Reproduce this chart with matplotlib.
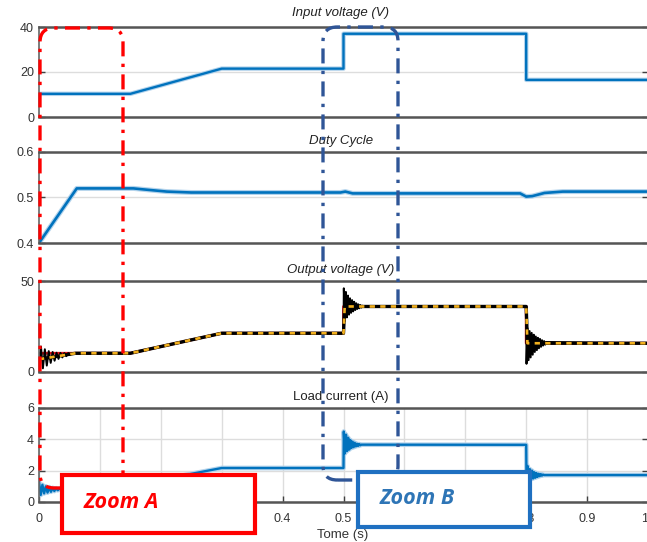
import numpy as np
import matplotlib
matplotlib.use("Agg")
import matplotlib.pyplot as plt
from matplotlib.patches import FancyBboxPatch, Rectangle

# ---------------- data ----------------
t_vin = [0, 0.15, 0.30, 0.50, 0.50, 0.80, 0.80, 1.0]
v_in = [10.3, 10.3, 21.5, 21.5, 37.0, 37.0, 16.5, 16.5]

t_duty = [0, 0.062, 0.155, 0.17, 0.21, 0.25, 0.495, 0.503, 0.515, 0.79, 0.80, 0.81, 0.83, 0.86, 1.0]
duty = [0.400, 0.520, 0.520, 0.518, 0.513, 0.511, 0.511, 0.513, 0.509, 0.509, 0.502, 0.503, 0.510, 0.513, 0.513]

t_ref = [0, 0.15, 0.30, 0.50, 0.50, 0.80, 0.80, 1.0]
v_ref = [10.3, 10.3, 21.3, 21.3, 36.0, 36.0, 15.8, 15.8]

t_vfilt = [0, 0.06, 0.15, 0.30, 0.50, 0.502, 0.80, 0.802, 1.0]
v_vfilt = [7.0, 10.3, 10.3, 21.3, 21.3, 36.0, 36.0, 15.8, 15.8]

# measured output voltage: steady breakpoints + ringing samples
t_vout_steady = [0.06, 0.15, 0.30, 0.50]
v_vout_steady = [10.3, 10.3, 21.3, 21.3]
vout_ring_start = [0, 14, 2, 12.5, 3.5, 11.5, 5, 11, 6.2, 10.6, 7.2, 10.5, 8, 10.4, 8.7, 10.4, 9.3, 10.3]
vout_ring_up = [46, 28, 44, 30, 42, 31.5, 40.5, 32.5, 39.5, 33.3, 38.6, 34, 37.8, 34.6, 37.2, 35, 36.8, 35.4, 36.4, 35.7]
vout_ring_down = [4.5, 24, 6.5, 22.5, 8, 21.5, 9.5, 20.5, 11, 19.5, 12, 18.8, 13, 18.2, 13.8, 17.5, 14.5, 17, 15, 16.5]
vout_after_up = 36.0
vout_end = 15.8

# load current
t_il_steady = [0.04, 0.15, 0.30, 0.50]
i_il_steady = [0.95, 1.05, 2.17, 2.17]
il_ring_start = [1.3, 0.45, 1.1, 0.55, 1.0, 0.6, 0.95, 0.65, 0.9, 0.7, 0.88, 0.75, 0.85, 0.8]
il_ring_up = [4.5, 3.1, 4.3, 3.25, 4.1, 3.35, 3.95, 3.45, 3.85, 3.5, 3.78, 3.55, 3.72, 3.58, 3.7, 3.62, 3.66]
il_ring_down = [1.2, 2.3, 1.3, 2.1, 1.45, 2.0, 1.5, 1.9, 1.55, 1.85, 1.6, 1.8, 1.65, 1.78, 1.68, 1.75, 1.72]
il_after_up = 3.65
il_end = 1.72

x_ticks = [0, 0.1, 0.2, 0.3, 0.4, 0.5, 0.6, 0.7, 0.8, 0.9, 1.0]
x_ticklabels = ["0", "0.1", "0.2", "0.3", "0.4", "0.5", "0.6", "0.7", "0.8", "0.9", "1"]

titles = ["Input voltage (V)", "Duty Cycle", "Output voltage (V)", "Load current (A)"]
xlabel = "Tome (s)"

# ---------------- assemble sampled traces ----------------
def ring_times(t0, n, dt):
    return [t0 + k * dt for k in range(n)]

t_vout = (ring_times(0.0, len(vout_ring_start), 0.0032) + t_vout_steady
          + ring_times(0.5005, len(vout_ring_up), 0.0017) + [0.80]
          + ring_times(0.8005, len(vout_ring_down), 0.0017) + [1.0])
v_vout = (vout_ring_start + v_vout_steady + vout_ring_up + [vout_after_up]
          + vout_ring_down + [vout_end])

t_il = (ring_times(0.0, len(il_ring_start), 0.0028) + t_il_steady
        + ring_times(0.5005, len(il_ring_up), 0.0018) + [0.80]
        + ring_times(0.8005, len(il_ring_down), 0.0018) + [1.0])
i_il = (il_ring_start + i_il_steady + il_ring_up + [il_after_up]
        + il_ring_down + [il_end])

# ---------------- figure ----------------
W, H = 647, 542
fig = plt.figure(figsize=(W / 100, H / 100), dpi=100)
fam = ["Liberation Sans", "DejaVu Sans"]
plt.rcParams["font.family"] = fam

def fx(x):
    return x / W

def fy(y):
    return 1 - y / H

def add_ax(top, bottom):
    return fig.add_axes([fx(39), fy(bottom), (648 - 39) / W, (bottom - top) / H])

ax1 = add_ax(27, 117)
ax2 = add_ax(152, 243)
ax3 = add_ax(281, 372)
ax4 = add_ax(408, 502)

blue = "#0072BD"
halo = "#b3d3ec"

ax1.plot(t_vin, v_in, color=halo, lw=3.2, solid_capstyle="butt")
ax1.plot(t_vin, v_in, color=blue, lw=1.7)
ax1.set_ylim(0, 40)
ax1.set_yticks([0, 20, 40])

ax2.plot(t_duty, duty, color=halo, lw=3.6)
ax2.plot(t_duty, duty, color=blue, lw=1.9)
ax2.set_ylim(0.4, 0.6)
ax2.set_yticks([0.4, 0.5, 0.6])
ax2.set_yticklabels(["0.4", "0.5", "0.6"])

ax3.plot(t_ref, v_ref, color="#e8141c", lw=2.0)
ax3.plot(t_vout, v_vout, color="black", lw=1.4)
ax3.plot(t_vfilt, v_vfilt, color="black", lw=2.4)
ax3.plot(t_vfilt, v_vfilt, color="#f2b01e", lw=1.9, dashes=(2.0, 2.0))
ax3.set_ylim(0, 50)
ax3.set_yticks([0, 50])

ax4.plot(t_il, i_il, color=halo, lw=3.4)
ax4.plot(t_il, i_il, color=blue, lw=1.7)
ax4.set_ylim(0, 6)
ax4.set_yticks([0, 2, 4, 6])

for ax in (ax1, ax2, ax3, ax4):
    ax.set_xlim(0, 1)
    ax.set_xticks(x_ticks)
    ax.tick_params(direction="in", length=4, width=1, colors="#404040",
                   labelsize=9, right=True, top=False, labelcolor="#333333")
    for s in ("top", "bottom"):
        ax.spines[s].set_color("#555555")
        ax.spines[s].set_linewidth(1.8)
    for s in ("left", "right"):
        ax.spines[s].set_color("#666666")
        ax.spines[s].set_linewidth(1.2)
    ax.set_axisbelow(True)

for ax in (ax1, ax2, ax3):
    ax.tick_params(axis="x", length=0, labelbottom=False)
    ax.grid(axis="y", color="#dddddd", lw=1)

ax4.set_xticklabels(x_ticklabels)
ax4.tick_params(axis="x", pad=8)
ax4.get_xticklabels()[-1].set_horizontalalignment("right")
ax4.grid(True, color="#dddddd", lw=1)

# titles
title_y = [13, 141, 270, 397]
for t, y, st in zip(titles, title_y, ["italic", "italic", "italic", "normal"]):
    fig.text(fx(341), fy(y), t, ha="center", va="center", fontsize=9.5,
             style=st, color="#222222", family=fam)
fig.text(fx(343), fy(529), xlabel, ha="center", va="top", fontsize=9.5,
         color="#333333", family=fam)

# ---------------- annotation overlays (figure pixels) ----------------
def rounded(x0, y0, x1, y1, color, ls):
    p = FancyBboxPatch((fx(x0), fy(y1)), fx(x1 - x0), (y1 - y0) / H,
                       boxstyle="round,pad=0,rounding_size=0.022",
                       transform=fig.transFigure, fill=False, edgecolor=color,
                       lw=2.4, linestyle=ls, zorder=10, mutation_aspect=W / H)
    fig.add_artist(p)

rounded(40, 28, 123, 488, "#ff0000", (0, (4.5, 2.2, 1.0, 2.2)))
rounded(323, 27, 398, 480, "#2f5597", (0, (4.5, 2.2, 1.0, 2.2)))

def box(x0, y0, x1, y1, color):
    r = Rectangle((fx(x0), fy(y1)), fx(x1 - x0), (y1 - y0) / H,
                  transform=fig.transFigure, facecolor="white", edgecolor=color,
                  lw=3.0, zorder=11)
    fig.add_artist(r)

box(62, 475, 255, 533, "#ff0000")
box(358, 472, 530, 527, "#1f70c1")
fig.text(fx(121), fy(503), "Zoom A", ha="center", va="center", fontsize=15.5,
         fontweight="bold", style="italic", color="#ff0000", zorder=12,
         family=["Open Sans", "DejaVu Sans"])
fig.text(fx(417), fy(499), "Zoom B", ha="center", va="center", fontsize=15.5,
         fontweight="bold", style="italic", color="#2e75b6", zorder=12,
         family=["Open Sans", "DejaVu Sans"])

fig.savefig("out.png", dpi=100)
